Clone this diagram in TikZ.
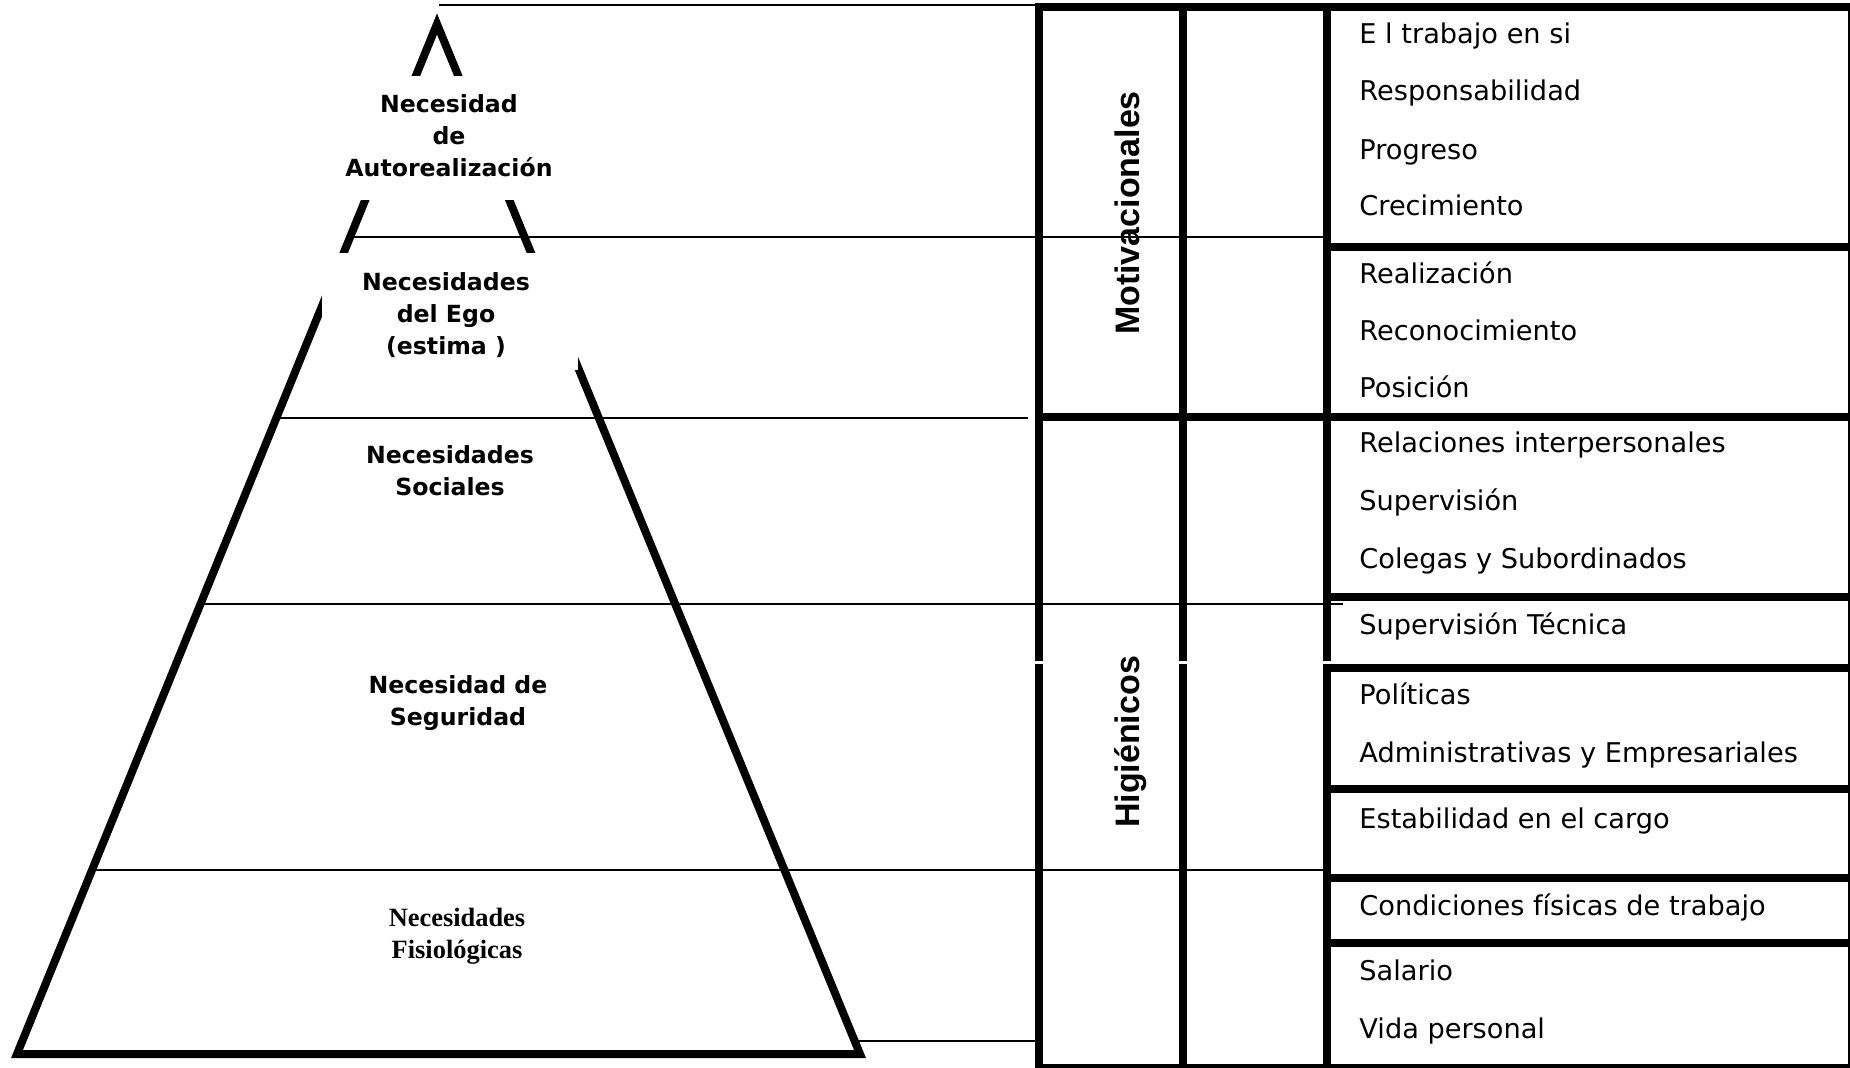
\documentclass[tikz,border=0pt]{standalone}
\usepackage{fontspec}
\newfontfamily\listfont{DejaVu Sans}
\newfontfamily\pyrfont{DejaVu Sans}
\newfontfamily\rotfont{Liberation Sans}
\newfontfamily\serfont{Liberation Serif}
\begin{document}
\begin{tikzpicture}[x=0.5pt,y=-0.5pt,
  pyr/.style={line width=4pt, line join=miter},
  thinline/.style={line width=1.2pt},
  thickline/.style={line width=4pt},
  edgeline/.style={line width=1pt},
  lbl/.style={font=\pyrfont\bfseries\fontsize{11.8}{16}\selectfont, align=center, inner sep=0pt},
  serlbl/.style={font=\serfont\bfseries\fontsize{13.2}{16}\selectfont, align=center, inner sep=0pt},
  item/.style={font=\listfont\fontsize{13.6}{16}\selectfont, anchor=base west, inner sep=0pt},
  cat/.style={font=\rotfont\bfseries\fontsize{17}{20}\selectfont, rotate=90, anchor=base, inner sep=0pt}]
\fill[white] (0,0) rectangle (1850,1067);
\useasboundingbox (0,0) rectangle (1850,1067);

% pyramid
\coordinate (apex) at (437,24);
\coordinate (bl) at (17,1054);
\coordinate (br) at (860,1054);
\draw[pyr] (apex) -- (bl) -- (br) -- cycle;

% white masks behind the upper labels
\fill[white] (320,76) rectangle (565,200);
\fill[white] (322,253) rectangle (578,370);

% level lines
\coordinate (l0a) at (439,5);   \coordinate (l0b) at (1035,5);
\coordinate (l1a) at (350,237); \coordinate (l1b) at (1327,237);
\coordinate (l2a) at (276,418); \coordinate (l2b) at (1028,418);
\coordinate (l3a) at (200,604); \coordinate (l3b) at (1343,604);
\coordinate (l4a) at (92,870);  \coordinate (l4b) at (1327,870);
\coordinate (l5a) at (852,1041); \coordinate (l5b) at (1035,1041);
\draw[thinline] (l0a) -- (l0b);
\draw[thinline] (l1a) -- (l1b);
\draw[thinline] (l2a) -- (l2b);
\draw[thinline] (l3a) -- (l3b);
\draw[thinline] (l4a) -- (l4b);
\draw[thinline] (l5a) -- (l5b);

% pyramid labels
\node[lbl] (n1) at (449,136) {Necesidad\\de\\Autorealización};
\node[lbl] (n2) at (446,315) {Necesidades\\del Ego\\(estima )};
\node[lbl] (n3) at (450,471) {Necesidades\\Sociales};
\node[lbl] (n4) at (458,703) {Necesidad de\\Seguridad};
\node[serlbl] (n5) at (457,936) {Necesidades\\Fisiológicas};

% table verticals
\coordinate (c1t) at (1039,3);  \coordinate (c1m) at (1039,661);
\coordinate (c1n) at (1039,664); \coordinate (c1b) at (1039,1067);
\coordinate (c2t) at (1183,3);  \coordinate (c2m) at (1183,661);
\coordinate (c2n) at (1183,664); \coordinate (c2b) at (1183,1067);
\coordinate (c3t) at (1327,3);  \coordinate (c3m) at (1327,661);
\coordinate (c3n) at (1327,664); \coordinate (c3b) at (1327,1067);
\coordinate (c4t) at (1849,7);  \coordinate (c4b) at (1849,1067);
\draw[thickline] (c1t) -- (c1m) (c1n) -- (c1b);
\draw[thickline] (c2t) -- (c2m) (c2n) -- (c2b);
\draw[thickline] (c3t) -- (c3m) (c3n) -- (c3b);
\draw[edgeline] (c4t) -- (c4b);

% table horizontals
\coordinate (h0a) at (1035,7);   \coordinate (h0b) at (1850,7);
\coordinate (h1a) at (1323,247); \coordinate (h1b) at (1850,247);
\coordinate (h2a) at (1035,417); \coordinate (h2b) at (1850,417);
\coordinate (h3a) at (1323,597); \coordinate (h3b) at (1850,597);
\coordinate (h4a) at (1323,668); \coordinate (h4b) at (1850,668);
\coordinate (h5a) at (1323,789); \coordinate (h5b) at (1850,789);
\coordinate (h6a) at (1323,878); \coordinate (h6b) at (1850,878);
\coordinate (h7a) at (1323,943); \coordinate (h7b) at (1850,943);
\coordinate (h8a) at (1035,1068); \coordinate (h8b) at (1850,1068);
\draw[thickline] (h0a) -- (h0b);
\draw[thickline] (h1a) -- (h1b);
\draw[thickline] (h2a) -- (h2b);
\draw[thickline] (h3a) -- (h3b);
\draw[thickline] (h4a) -- (h4b);
\draw[thickline] (h5a) -- (h5b);
\draw[thickline] (h6a) -- (h6b);
\draw[thickline] (h7a) -- (h7b);
\draw[thickline] (h8a) -- (h8b);

% category labels
\node[cat] (mot) at (1139,213) {Motivacionales};
\node[cat] (hig) at (1139,742) {Higiénicos};

% factor items
\node[item] (i1)  at (1359,43)   {E l trabajo en si};
\node[item] (i2)  at (1359,100)  {Responsabilidad};
\node[item] (i3)  at (1359,159)  {Progreso};
\node[item] (i4)  at (1359,215)  {Crecimiento};
\node[item] (i5)  at (1359,283)  {Realización};
\node[item] (i6)  at (1359,340)  {Reconocimiento};
\node[item] (i7)  at (1359,397)  {Posición};
\node[item] (i8)  at (1359,452)  {Relaciones interpersonales};
\node[item] (i9)  at (1359,510)  {Supervisión};
\node[item] (i10) at (1359,568)  {Colegas y Subordinados};
\node[item] (i11) at (1359,634)  {Supervisión Técnica};
\node[item] (i12) at (1359,704)  {Políticas};
\node[item] (i13) at (1359,762)  {Administrativas y Empresariales};
\node[item] (i14) at (1359,828)  {Estabilidad en el cargo};
\node[item] (i15) at (1359,915)  {Condiciones físicas de trabajo};
\node[item] (i16) at (1359,980)  {Salario};
\node[item] (i17) at (1359,1038) {Vida personal};
\end{tikzpicture}
\end{document}
